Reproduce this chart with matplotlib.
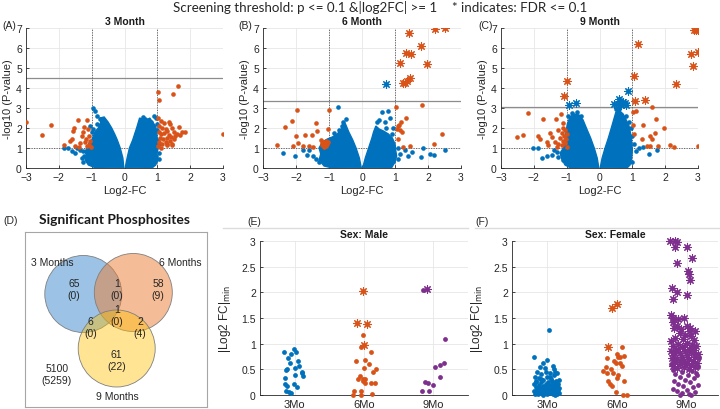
import numpy as np
import matplotlib.pyplot as plt
from matplotlib.patches import Circle
from matplotlib.lines import Line2D

plt.rcParams['font.family'] = ['Liberation Sans', 'DejaVu Sans']

BLUE = '#0072BD'
ORANGE = '#D95319'
PURPLE = '#7E2F8E'

# ---------------- volcano data (Log2-FC, -log10 p) ----------------
# dense blue cloud outlines (left arm, right arm)
a_cloud_l = [(-0.02, 0), (-0.05, 0.5), (-0.13, 1.0), (-0.22, 1.4), (-0.3, 1.7), (-0.39, 2.0), (-0.5, 2.3),
             (-0.62, 2.55), (-0.75, 2.5), (-0.72, 2.3), (-0.8, 2.0), (-0.88, 1.85), (-0.95, 1.6), (-1.0, 1.4),
             (-1.08, 1.2), (-1.15, 1.0), (-1.2, 0.8), (-1.15, 0.6), (-1.2, 0.4), (-1.1, 0.15), (-0.9, 0.02)]
a_cloud_r = [(0.02, 0), (0.08, 0.5), (0.15, 1.0), (0.25, 1.4), (0.37, 2.0), (0.46, 2.5), (0.55, 2.45),
             (0.62, 2.3), (0.77, 2.5), (0.85, 2.3), (0.95, 2.1), (0.98, 1.8), (1.0, 1.4), (1.03, 1.0),
             (0.98, 0.7), (1.02, 0.4), (0.95, 0.15), (0.85, 0.02)]
a_blue = [(-1.85, 0.98), (-1.72, 0.98), (-1.6, 0.85), (-1.5, 0.75), (-1.45, 0.98), (-1.35, 0.9), (-1.25, 0.85),
          (-1.1, 0.35), (-1.22, 0.6), (-0.95, 3.0), (-0.9, 2.85), (-0.85, 2.6), (-0.75, 2.45), (-0.7, 2.3),
          (-0.6, 2.1), (-1.05, 2.1), (-1.0, 1.8), (-1.05, 1.25), (-1.25, 0.3), (-1.3, 0.5), (0.55, 2.55),
          (0.62, 2.45), (0.72, 2.4), (0.9, 2.6), (0.95, 2.5), (0.8, 2.3), (1.0, 2.2), (0.98, 1.4), (0.95, 0.6),
          (1.05, 0.75), (0.8, 0.15), (1.05, 0.45), (1.06, 1.2), (0.45, 2.05), (0.35, 1.7), (0.85, 0.5),
          (-0.85, 2.2), (-0.95, 1.95), (1.0, 1.9), (0.5, 2.3)]
a_orange = [(-3, 2.29), (-2.5, 1.65), (-2.25, 2.15), (-1.84, 1.15), (-1.6, 1.47), (-1.53, 2.02), (-1.43, 2.42),
            (-1.58, 1.87), (-1.13, 2.42), (-1.22, 2.06), (-1.1, 1.95), (-1.35, 1.27), (-1.5, 1.12), (-1.3, 1.6),
            (-1.07, 1.62), (-1.15, 1.1), (-1.05, 1.37), (-1.17, 1.45), (-1.4, 1.03), (-1.25, 1.78), (-1.66, 1.37),
            (-1.2, 1.28), (-1.08, 1.15), (-1.02, 1.05),
            (1.03, 3.82), (1.49, 3.72), (1.64, 4.1), (1.06, 3.42), (1.01, 2.49), (1.1, 2.35), (1.2, 2.25),
            (1.35, 2.3), (1.4, 2.2), (1.05, 2.1), (1.15, 2.0), (1.25, 1.95), (1.3, 1.85), (1.45, 2.0), (1.5, 1.8),
            (1.05, 1.8), (1.12, 1.7), (1.2, 1.75), (1.35, 1.65), (1.42, 1.55), (1.55, 1.6), (1.08, 1.5),
            (1.18, 1.45), (1.28, 1.5), (1.4, 1.35), (1.5, 1.45), (1.05, 1.3), (1.15, 1.2), (1.25, 1.3),
            (1.45, 1.2), (1.02, 1.1), (1.1, 1.0), (1.3, 1.15), (1.66, 2.05), (1.75, 1.78), (1.85, 1.8),
            (1.7, 1.65), (1.29, 1.2), (1.44, 1.15), (1.6, 1.7), (3.0, 1.7)]
a_star_orange = []
a_star_blue = []
a_fdr = 4.5

b_cloud_l = [(-0.02, 0), (-0.08, 0.5), (-0.18, 1.0), (-0.28, 1.4), (-0.4, 1.8), (-0.5, 2.2), (-0.58, 2.3),
             (-0.6, 2.0), (-0.75, 1.7), (-0.9, 1.55), (-1.05, 1.45), (-1.2, 1.3), (-1.3, 1.0), (-1.25, 0.7),
             (-1.3, 0.4), (-1.15, 0.1), (-0.95, 0.02)]
b_cloud_r = [(0.02, 0), (0.1, 0.5), (0.2, 1.0), (0.3, 1.5), (0.35, 1.8), (0.42, 2.1), (0.52, 1.95),
             (0.65, 1.85), (0.8, 1.7), (0.92, 1.5), (1.0, 1.2), (1.02, 0.9), (1.05, 0.6), (1.0, 0.3),
             (0.9, 0.02)]
b_blue = [(1.8, 0.54), (1.86, 0.99), (2.05, 0.72), (2.52, 0.92), (2.18, 0.67), (-2.38, 0.75), (-2.03, 0.59),
          (-1.68, 0.65), (-1.38, 0.47), (-0.72, 3.05), (-1.78, 0.92), (-1.6, 0.9), (0.5, 2.4), (0.6, 2.8),
          (0.8, 2.83), (0.45, 2.3), (0.7, 2.3), (0.74, 2.0), (0.9, 1.7), (0.95, 0.35), (1.1, 0.45),
          (1.4, 0.6), (1.5, 0.8), (1.3, 0.9), (-0.57, 2.3), (-0.6, 2.1), (-0.7, 1.9), (-1.3, 0.3), (-1.5, 0.6),
          (0.85, 2.5), (0.95, 2.0), (-0.5, 2.45), (-0.85, 1.75), (1.08, 1.0), (1.15, 0.7)]
b_orange = [(1.81, 3.17), (1.03, 3.06), (-0.99, 2.92), (-1.98, 2.92), (-2.13, 2.35), (-2.33, 2.05),
            (-2.0, 1.59), (-1.94, 1.26), (-1.73, 1.66), (-1.53, 1.63), (-1.39, 2.25), (-1.36, 1.83), (-1.03, 1.96),
            (-2.58, 1.16), (-2.09, 1.12), (-1.79, 1.12), (-1.48, 1.04), (-1.6, 1.08), (-1.25, 1.4), (-1.18, 1.3),
            (-1.1, 1.35), (-1.05, 1.2), (-1.2, 1.15), (-1.15, 1.05), (-1.08, 1.1), (-1.22, 1.25), (-1.02, 1.3),
            (-1.12, 1.22), (1.32, 2.52), (1.19, 2.3), (1.1, 2.08), (1.15, 1.88), (1.2, 1.8), (1.05, 1.95),
            (1.12, 2.15), (1.25, 1.04), (1.45, 1.12), (2.42, 1.68), (2.18, 1.19), (1.1, 1.46)]
b_star_orange = [(2.5, 6.98), (2.22, 6.95), (1.41, 6.76), (1.8, 6.11), (1.32, 5.74), (1.49, 5.69), (1.15, 5.23),
                 (1.97, 5.18), (1.45, 4.48), (1.36, 4.35), (1.23, 4.23), (1.3, 4.25)]
b_star_blue = [(0.72, 4.18)]
b_fdr = 3.36

c_cloud_l = [(-0.02, 0), (-0.07, 0.5), (-0.16, 1.0), (-0.27, 1.5), (-0.4, 2.0), (-0.5, 2.4), (-0.62, 2.65),
             (-0.78, 2.7), (-0.9, 2.55), (-0.98, 2.2), (-1.02, 1.8), (-1.05, 1.4), (-1.1, 1.0), (-1.2, 0.75),
             (-1.15, 0.45), (-1.05, 0.15), (-0.9, 0.02)]
c_cloud_r = [(0.02, 0), (0.08, 0.5), (0.17, 1.0), (0.27, 1.5), (0.36, 2.0), (0.43, 2.4), (0.5, 2.8),
             (0.62, 2.85), (0.72, 2.7), (0.8, 2.45), (0.9, 2.1), (0.95, 1.7), (0.98, 1.3), (1.0, 0.9),
             (0.98, 0.5), (0.93, 0.15), (0.85, 0.02)]
c_blue = [(-2.02, 1.02), (-1.87, 1.02), (-1.61, 0.62), (-1.76, 0.5), (-1.46, 0.65), (-1.3, 0.8), (1.33, 1.04),
          (1.1, 0.87), (0.99, 0.3), (1.76, 0.92), (1.2, 1.0), (1.5, 0.7), (-0.85, 2.75), (-0.7, 2.8),
          (-0.55, 2.6), (0.5, 2.95), (0.6, 2.95), (0.8, 2.6), (0.9, 2.3), (1.0, 1.6), (-1.1, 0.4),
          (-1.25, 0.55), (-0.95, 2.6), (0.95, 2.0), (1.05, 1.2), (-1.4, 0.9)]
c_orange = [(1.59, 3.04), (1.12, 2.84), (1.02, 2.8), (1.33, 2.13), (1.73, 2.43), (1.96, 2.01), (1.69, 1.73),
            (1.53, 1.59), (1.61, 1.46), (1.28, 1.46), (1.02, 2.13), (1.04, 1.68), (2.14, 1.16), (2.26, 1.04),
            (3.0, 1.11), (1.53, 1.12), (1.78, 1.12), (1.45, 1.08),
            (-2.17, 2.77), (-2.5, 1.55), (-2.32, 1.66), (-1.87, 1.61), (-1.81, 1.46), (-1.71, 2.43),
            (-1.51, 1.76), (-1.46, 1.53), (-1.31, 2.47), (-1.26, 1.88), (-1.56, 1.17), (-1.36, 1.29),
            (-1.16, 2.72), (-1.1, 2.0), (-1.05, 1.9), (-1.15, 1.75), (-1.08, 1.6), (-1.2, 1.5), (-1.02, 1.45),
            (-1.12, 1.35), (-1.25, 1.2), (-1.05, 1.25), (-1.15, 1.15), (-1.0, 1.7), (-1.1, 2.25), (-1.3, 1.05),
            (-1.6, 1.3), (-1.0, 1.05)]
c_star_orange = [(2.87, 6.91), (3.0, 6.88), (2.93, 6.9), (1.17, 6.19), (2.8, 5.69), (3.0, 5.79), (2.85, 5.12),
                 (2.33, 4.18), (1.04, 4.61), (1.09, 3.34), (1.38, 3.39), (-1.0, 4.35), (-1.08, 3.61)]
c_star_blue = [(0.87, 3.86), (-0.72, 3.26), (-0.94, 3.17), (0.59, 3.47), (0.72, 3.3), (0.45, 3.22),
               (0.82, 3.17), (0.67, 3.14), (0.55, 3.2), (0.63, 3.35), (0.78, 3.25)]
c_fdr = 3.04

# ---------------- strip data (jitter, |Log2 FC|min) ----------------
groups = ['3Mo', '6Mo', '9Mo']
male_3 = [(-0.16, 0.83), (-0.01, 0.89), (-0.05, 0.80), (-0.10, 0.73), (0.02, 0.83), (-0.07, 0.63), (0.05, 0.67),
          (-0.11, 0.50), (0.01, 0.52), (0.06, 0.57), (0.10, 0.45), (0.12, 0.37), (0.11, 0.42), (0.01, 0.39),
          (-0.14, 0.34), (-0.14, 0.21), (-0.11, 0.18), (-0.01, 0.21), (0.04, 0.16), (-0.13, 0.07),
          (-0.08, 0.05), (-0.05, 0.03), (-0.12, 0.48)]
male_6 = [(-0.01, 1.17), (-0.04, 0.93), (-0.12, 0.67), (0.10, 0.84), (0.02, 0.68), (0.07, 0.61), (0.0, 0.52),
          (0.17, 0.50), (0.13, 0.44), (-0.06, 0.37), (-0.02, 0.32), (0.02, 0.31), (-0.01, 0.27), (0.01, 0.23),
          (0.10, 0.24), (0.16, 0.24), (-0.14, 0.07), (-0.05, 0.07), (-0.16, 0.0), (-0.04, 0.0), (0.12, 0.01),
          (-0.09, 0.31)]
male_6_star = [(-0.01, 2.02), (-0.10, 1.40), (0.05, 1.39), (0.0, 0.97)]
male_9 = [(-0.15, 2.05), (0.17, 1.10), (0.15, 0.62), (0.10, 0.58), (0.03, 0.55), (0.09, 0.36), (-0.12, 0.25),
          (-0.07, 0.23), (0.0, 0.20), (-0.17, 0.08), (-0.06, 0.08)]
male_9_star = [(-0.09, 2.07)]

female_3 = [(0.03, 1.27), (-0.18, 0.74), (0.0, 0.68), (-0.06, 0.62), (0.08, 0.56), (-0.1, 0.55), (-0.03, 0.52),
            (0.12, 0.45), (0.15, 0.42), (-0.14, 0.45), (0.05, 0.42), (-0.08, 0.4), (0.1, 0.38), (-0.17, 0.36),
            (0.0, 0.35), (-0.12, 0.33), (0.06, 0.32), (0.17, 0.3), (-0.05, 0.3), (0.13, 0.28), (-0.15, 0.27),
            (0.02, 0.26), (-0.09, 0.25), (0.09, 0.24), (-0.02, 0.22), (0.16, 0.22), (-0.18, 0.21), (0.05, 0.2),
            (-0.12, 0.2), (0.11, 0.19), (-0.06, 0.18), (0.14, 0.17), (0.0, 0.16), (-0.16, 0.15), (0.08, 0.15),
            (-0.03, 0.14), (0.18, 0.13), (-0.1, 0.13), (0.04, 0.12), (-0.14, 0.11), (0.12, 0.11), (-0.07, 0.1),
            (0.16, 0.1), (0.01, 0.09), (-0.18, 0.08), (0.07, 0.08), (-0.04, 0.07), (0.13, 0.07), (-0.11, 0.06),
            (0.1, 0.06), (-0.15, 0.05), (0.03, 0.05), (0.17, 0.04), (-0.08, 0.04), (0.06, 0.03), (-0.01, 0.03),
            (-0.13, 0.02), (0.14, 0.02), (0.09, 0.01), (-0.17, 0.01), (0.0, 0.01), (-0.05, 0.0), (0.11, 0.0),
            (0.15, 0.15), (-0.09, 0.32), (0.04, 0.36), (-0.01, 0.44), (0.1, 0.5), (-0.16, 0.25), (0.07, 0.27)]
female_6 = [(0.08, 0.93), (0.1, 0.76), (0.0, 0.8), (0.02, 0.74), (-0.04, 0.67), (-0.01, 0.62), (0.04, 0.63),
            (-0.14, 0.72), (-0.19, 0.47), (-0.14, 0.42), (-0.05, 0.42), (0.02, 0.39), (-0.12, 0.27),
            (-0.1, 0.21), (-0.07, 0.18), (-0.01, 0.05), (0.09, 0.0), (0.14, 0.0), (0.07, 0.57), (0.11, 0.27),
            (-0.16, 0.55), (0.05, 0.75), (-0.08, 0.5), (0.0, 0.33)]
female_6_star = [(-0.07, 1.70), (0.01, 1.77), (-0.12, 0.93)]
female_9 = [(-0.2, 0.48), (0.08, 0.46), (-0.06, 0.44), (0.14, 0.42), (-0.16, 0.4), (0.02, 0.38), (-0.1, 0.35),
            (0.1, 0.33), (-0.02, 0.3), (-0.18, 0.28), (0.05, 0.26), (-0.12, 0.22), (0.16, 0.2), (-0.05, 0.18),
            (0.09, 0.15), (-0.2, 0.12), (0.0, 0.1), (-0.14, 0.07), (0.12, 0.06), (-0.06, 0.04), (0.04, 0.02),
            (-0.1, 0.0), (0.07, 0.0), (0.15, 0.38), (-0.22, 0.6), (0.18, 0.72), (-0.08, 0.68), (0.1, 0.8),
            (-0.12, 0.9), (0.02, 0.72), (-0.04, 0.95), (0.13, 0.6), (-0.16, 0.82), (0.06, 0.92), (-0.01, 0.58),
            (0.17, 0.55), (-0.19, 0.66)]
female_9_star = [(-0.24, 3.0), (-0.17, 3.0), (-0.13, 2.98), (-0.16, 2.88), (0.0, 2.88), (0.08, 2.67),
                 (-0.14, 2.57), (0.02, 2.41), (0.04, 2.35), (0.05, 2.25), (-0.21, 2.08), (-0.14, 2.0),
                 (-0.2, 1.87), (0.0, 1.94), (-0.22, 1.55), (-0.2, 1.5), (-0.12, 1.49), (-0.03, 1.5), (-0.2, 1.42),
                 (-0.14, 1.35), (0.0, 1.34), (0.05, 1.3), (0.05, 1.25), (-0.08, 1.28), (-0.18, 1.3), (0.12, 1.25),
                 (-0.02, 1.17), (-0.1, 1.2), (0.11, 1.07), (-0.16, 1.12), (-0.05, 1.1), (0.06, 1.15),
                 (-0.22, 1.05), (0.0, 1.02), (-0.12, 1.0), (0.08, 0.98), (-0.19, 0.95), (0.14, 0.95),
                 (-0.06, 0.93), (0.03, 0.9), (-0.15, 0.88), (0.1, 0.88), (-0.22, 0.85), (-0.02, 0.85),
                 (0.06, 0.83), (-0.1, 0.82), (0.16, 0.8), (-0.18, 0.78), (0.0, 0.78), (-0.07, 0.75), (0.12, 0.74),
                 (-0.21, 0.72), (0.04, 0.7), (-0.13, 0.7), (0.09, 0.67), (-0.03, 0.66), (-0.17, 0.64),
                 (0.15, 0.63), (0.01, 0.62), (-0.09, 0.6), (0.07, 0.58), (-0.2, 0.57), (-0.04, 0.55),
                 (0.12, 0.54), (-0.14, 0.52), (0.03, 0.5)]

# ---------------- venn counts ----------------
venn_sets = ['3 Months', '6 Months', '9 Months']
venn_counts = {'100': '65\n(0)', '010': '58\n(9)', '001': '61\n(22)', '110': '1\n(0)',
               '101': '6\n(0)', '011': '2\n(4)', '111': '1\n(0)', '000': '5100\n(5259)'}

W, H = 720, 410
fig = plt.figure(figsize=(7.2, 4.1), dpi=100)


def px_axes(l, t, r, b):
    return fig.add_axes([l / W, 1 - b / H, (r - l) / W, (b - t) / H])


def style(ax):
    for s in ['top', 'right']:
        ax.spines[s].set_visible(False)
    for s in ['left', 'bottom']:
        ax.spines[s].set_color('#262626')
        ax.spines[s].set_linewidth(0.6)
    ax.tick_params(direction='in', length=2.5, width=0.6, labelsize=7.5, colors='#262626', pad=3)
    ax.grid(True, color='#e6e6e6', lw=0.6)
    ax.set_axisbelow(True)


def dots(ax, pts, c, s=11, dx=0):
    if pts:
        x, y = zip(*pts)
        ax.scatter(np.array(x) + dx, y, s=s, c=c, lw=0, zorder=3)


def stars(ax, pts, c, dx=0):
    if pts:
        x, y = zip(*pts)
        ax.scatter(np.array(x) + dx, y, s=11, c=c, lw=0, zorder=4)
        ax.scatter(np.array(x) + dx, y, s=30, c=c, marker=(8, 2, 0), lw=0.8, zorder=4)


def volcano(ax, title, cl, cr, blue, orange, so, sb, fdr):
    style(ax)
    ax.set_xlim(-3, 3)
    ax.set_ylim(0, 7)
    ax.set_xticks(range(-3, 4))
    ax.set_yticks(range(0, 8))
    ax.axhline(fdr, color='#8c8c8c', lw=0.9, zorder=1)
    ax.axhline(1, color='#555555', lw=0.6, ls=(0, (1.5, 1.5)), zorder=1)
    ax.axvline(-1, color='#555555', lw=0.6, ls=(0, (1.5, 1.5)), zorder=1)
    ax.axvline(1, color='#555555', lw=0.6, ls=(0, (1.5, 1.5)), zorder=1)
    for poly in (cl, cr):
        x, y = zip(*poly)
        ax.fill(x, y, color=BLUE, lw=1, ec=BLUE, zorder=2)
    dots(ax, blue, BLUE)
    dots(ax, orange, ORANGE)
    stars(ax, so, ORANGE)
    stars(ax, sb, BLUE)
    ax.set_title(title, fontsize=7.5, fontweight='bold', pad=3, color='#1a1a1a')
    ax.set_xlabel('Log2-FC', fontsize=8, labelpad=2, color='#262626')
    ax.set_ylabel('-log10 (P-value)', fontsize=8, labelpad=2, color='#262626')


axA = px_axes(26, 29, 223, 169)
axB = px_axes(263, 29, 461, 169)
axC = px_axes(501, 29, 698, 169)
volcano(axA, '3 Month', a_cloud_l, a_cloud_r, a_blue, a_orange, a_star_orange, a_star_blue, a_fdr)
volcano(axB, '6 Month', b_cloud_l, b_cloud_r, b_blue, b_orange, b_star_orange, b_star_blue, b_fdr)
volcano(axC, '9 Month', c_cloud_l, c_cloud_r, c_blue, c_orange, c_star_orange, c_star_blue, c_fdr)

fig.text(173 / W, 1 - 8 / H, 'Screening threshold: p <= 0.1 &|log2FC| >= 1', fontsize=9.6,
         family='Lato', va='center', ha='left', color='#262626')
fig.text(452 / W, 1 - 8 / H, '* indicates: FDR <= 0.1', fontsize=9.6,
         family='Lato', va='center', ha='left', color='#262626')
for lab, x in [('(A)', 2), ('(B)', 238), ('(C)', 478)]:
    fig.text(x / W, 1 - 26 / H, lab, fontsize=7.5, va='center', color='#262626')

# ---------------- venn ----------------
axD = px_axes(25, 233, 207, 408)
axD.set_xlim(25, 207)
axD.set_ylim(408, 233)
axD.set_xticks([])
axD.set_yticks([])
for s in axD.spines.values():
    s.set_color('#a6a6a6')
    s.set_linewidth(0.8)
circ = [((83.3, 295), 38.5, '#5B9BD5', 0.6), ((133.3, 293.5), 39, '#ED7D31', 0.5),
        ((116.7, 349.5), 38.5, '#FFC000', 0.42)]
for (c, r, col, a) in circ:
    axD.add_patch(Circle(c, r, fc=col, alpha=a, ec='none'))
    axD.add_patch(Circle(c, r, fc='none', ec='#7f7f7f', lw=0.6))
venn_pos = {'100': (74, 290), '010': (158, 290), '001': (116.7, 361), '110': (116.7, 290),
            '101': (90.7, 328), '011': (140, 328), '111': (116.7, 316), '000': (56.7, 375)}
for k, txt in venn_counts.items():
    axD.text(*venn_pos[k], txt, ha='center', va='center', fontsize=7.5, color='#262626', linespacing=1.25)
axD.text(52, 263, venn_sets[0], ha='center', va='center', fontsize=7.5, color='#262626')
axD.text(180, 263, venn_sets[1], ha='center', va='center', fontsize=7.5, color='#262626')
axD.text(117, 397, venn_sets[2], ha='center', va='center', fontsize=7.5, color='#262626')
fig.text(115 / W, 1 - 220 / H, 'Significant Phosphosites', fontsize=10, fontweight='bold',
         family='Lato', ha='center', va='center', color='#1a1a1a')
fig.text(3 / W, 1 - 221 / H, '(D)', fontsize=7.5, va='center', color='#262626')


# ---------------- strip plots ----------------
def strip(ax, title, g1, g2, g2s, g3, g3s, xmax):
    style(ax)
    ax.set_xlim(0.5, xmax)
    ax.set_ylim(0, 3)
    ax.set_xticks([1, 2, 3])
    ax.set_xticklabels(groups, fontsize=8)
    ax.set_yticks(np.arange(0, 3.01, 0.5))
    ax.set_yticklabels(['0', '0.5', '1', '1.5', '2', '2.5', '3'])
    ax.tick_params(axis='x', length=0)
    dots(ax, g1, BLUE, s=12, dx=1)
    dots(ax, g2, ORANGE, s=12, dx=2)
    stars(ax, g2s, ORANGE, dx=2)
    dots(ax, g3, PURPLE, s=12, dx=3)
    stars(ax, g3s, PURPLE, dx=3)
    for c in ax.collections:
        c.set_clip_on(False)
    ax.set_title(title, fontsize=7.5, fontweight='bold', pad=3, color='#1a1a1a')


axE = px_axes(260, 242, 468, 396)
axF = px_axes(512, 242, 718, 396)
strip(axE, 'Sex: Male', male_3, male_6, male_6_star, male_9, male_9_star, 3.5)
strip(axF, 'Sex: Female', female_3, female_6, female_6_star, female_9, female_9_star, 3.45)
axE.set_ylabel(r'|Log2 FC|$_{\rm min}$', fontsize=8.5, labelpad=6, color='#262626')
axF.set_ylabel(r'|Log2 FC|$_{\rm min}$', fontsize=8.5, labelpad=6, color='#262626')
fig.text(247 / W, 1 - 222 / H, '(E)', fontsize=7.5, va='center', color='#262626')
fig.text(475 / W, 1 - 222 / H, '(F)', fontsize=7.5, va='center', color='#262626')
fig.add_artist(Line2D([223 / W, 468 / W], [1 - 229 / H] * 2, color='#dcdcdc', lw=1))
fig.add_artist(Line2D([475 / W, 720 / W], [1 - 229 / H] * 2, color='#dcdcdc', lw=1))

fig.savefig('out.png', dpi=100)
